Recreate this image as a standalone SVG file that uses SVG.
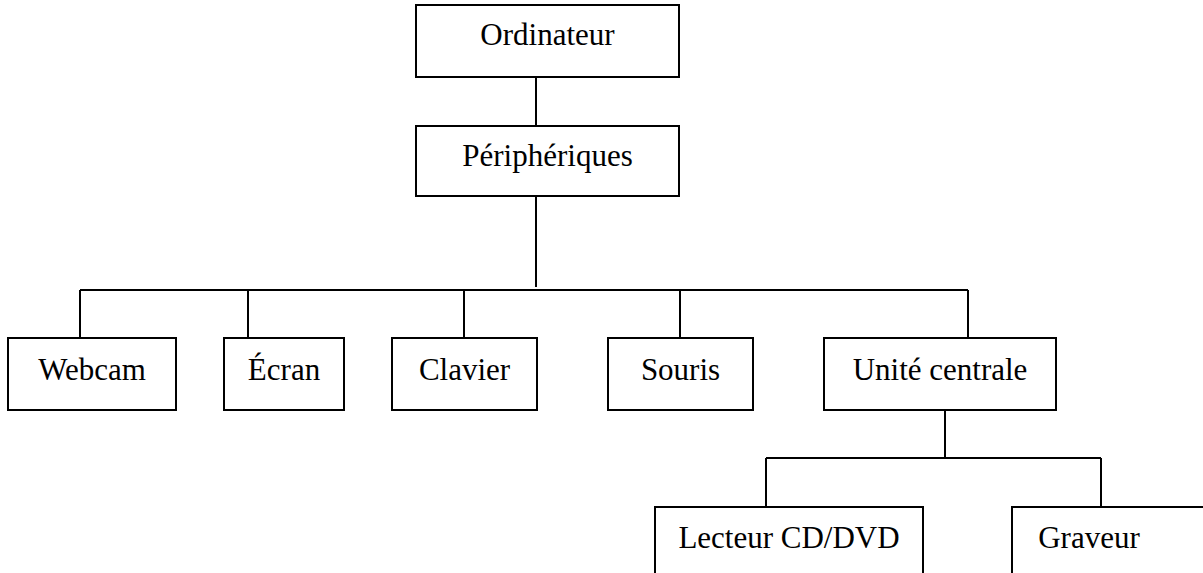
<svg xmlns="http://www.w3.org/2000/svg" width="1203" height="573" viewBox="0 0 1203 573">
<style>
.b{fill:#fff;stroke:#000;stroke-width:2}
.c{fill:none;stroke:#000;stroke-width:2}
text{font-family:"Liberation Serif","Times New Roman",serif;font-size:31px;fill:#000;text-anchor:middle}
</style>
<rect width="1203" height="573" fill="#fff"/>
<g id="connectors">
<path class="c" d="M536,77V126"/>
<path class="c" d="M536,196V287"/>
<path class="c" d="M80,290H968"/>
<path class="c" d="M80,290V338M248,290V338M464,290V338M680,290V338M968,290V338"/>
<path class="c" d="M945,410V458M766,458H1101M766,458V507M1101,458V507"/>
</g>
<g id="n-ordinateur"><rect class="b" x="416" y="5" width="263" height="72"/><text x="547.5" y="45">Ordinateur</text></g>
<g id="n-peripheriques"><rect class="b" x="416" y="126" width="263" height="70"/><text x="547.5" y="166">Périphériques</text></g>
<g id="n-webcam"><rect class="b" x="8" y="338" width="168" height="72"/><text x="92" y="380">Webcam</text></g>
<g id="n-ecran"><rect class="b" x="224" y="338" width="120" height="72"/><text x="284" y="380">Écran</text></g>
<g id="n-clavier"><rect class="b" x="392" y="338" width="145" height="72"/><text x="464.5" y="380">Clavier</text></g>
<g id="n-souris"><rect class="b" x="608" y="338" width="145" height="72"/><text x="680.5" y="380">Souris</text></g>
<g id="n-unite"><rect class="b" x="824" y="338" width="232" height="72"/><text x="940" y="380">Unité centrale</text></g>
<g id="n-lecteur"><rect class="b" x="655" y="507" width="268" height="80"/><text x="789" y="548">Lecteur CD/DVD</text></g>
<g id="n-graveur"><rect class="b" x="1012" y="507" width="220" height="80"/><text x="1089" y="548">Graveur</text></g>
</svg>
